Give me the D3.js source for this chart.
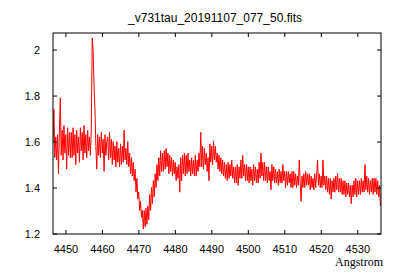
<!DOCTYPE html>
<html>
<head>
<meta charset="utf-8">
<script src="https://cdn.jsdelivr.net/npm/d3@7"></script>
<style>
  body { margin: 0; background: #fff; }
  svg { display: block; }
  .tick text { font-family: "Liberation Sans", Arial, sans-serif; font-size: 11px; fill: #000; }
</style>
</head>
<body>
<svg id="chart" width="400" height="280"></svg>
<script>
// spectrum header: start wavelength and step (Angstrom per sample)
const lambda0 = 4446.6;
const dLambda = 0.25;

// flux, one value per sample (20 samples = 5 A per row)
const flux = [
  1.60, 1.74, 1.53, 1.62, 1.52, 1.63, 1.46, 1.64, 1.79, 1.54, 1.65, 1.52, 1.67, 1.55, 1.63, 1.48, 1.66, 1.54, 1.64, 1.53,
  1.64, 1.53, 1.66, 1.54, 1.63, 1.50, 1.65, 1.55, 1.62, 1.51, 1.66, 1.56, 1.64, 1.52, 1.67, 1.55, 1.63, 1.53, 1.65, 1.56,
  1.62, 1.54, 1.66, 2.05, 2.00, 1.84, 1.74, 1.58, 1.48, 1.63, 1.54, 1.62, 1.53, 1.64, 1.55, 1.61, 1.47, 1.63, 1.54, 1.60,
  1.62, 1.52, 1.64, 1.53, 1.61, 1.50, 1.60, 1.52, 1.58, 1.49, 1.60, 1.51, 1.57, 1.49, 1.59, 1.50, 1.58, 1.51, 1.65, 1.52,
  1.57, 1.50, 1.60, 1.49, 1.55, 1.46, 1.53, 1.45, 1.51, 1.43, 1.48, 1.38, 1.44, 1.35, 1.38, 1.30, 1.34, 1.27, 1.30, 1.22,
  1.30, 1.23, 1.31, 1.24, 1.32, 1.26, 1.37, 1.30, 1.40, 1.33, 1.43, 1.36, 1.46, 1.40, 1.50, 1.43, 1.53, 1.45, 1.56, 1.47,
  1.55, 1.47, 1.56, 1.48, 1.57, 1.49, 1.55, 1.46, 1.54, 1.47, 1.53, 1.45, 1.52, 1.46, 1.51, 1.43, 1.49, 1.44, 1.50, 1.38,
  1.53, 1.43, 1.54, 1.46, 1.55, 1.45, 1.54, 1.46, 1.55, 1.47, 1.52, 1.45, 1.53, 1.46, 1.52, 1.45, 1.54, 1.45, 1.52, 1.47,
  1.55, 1.49, 1.64, 1.49, 1.58, 1.48, 1.57, 1.50, 1.55, 1.47, 1.53, 1.43, 1.59, 1.51, 1.58, 1.50, 1.60, 1.52, 1.58, 1.51,
  1.55, 1.48, 1.54, 1.47, 1.53, 1.46, 1.52, 1.45, 1.51, 1.44, 1.50, 1.43, 1.51, 1.44, 1.50, 1.45, 1.52, 1.44, 1.49, 1.42,
  1.49, 1.42, 1.50, 1.41, 1.49, 1.44, 1.52, 1.44, 1.54, 1.45, 1.50, 1.43, 1.50, 1.43, 1.49, 1.42, 1.49, 1.43, 1.48, 1.41,
  1.50, 1.43, 1.49, 1.42, 1.48, 1.42, 1.51, 1.44, 1.55, 1.45, 1.51, 1.43, 1.51, 1.43, 1.49, 1.42, 1.49, 1.43, 1.47, 1.39,
  1.50, 1.43, 1.49, 1.42, 1.48, 1.42, 1.47, 1.41, 1.48, 1.42, 1.47, 1.42, 1.50, 1.43, 1.47, 1.40, 1.47, 1.41, 1.47, 1.42,
  1.46, 1.40, 1.47, 1.40, 1.47, 1.41, 1.46, 1.40, 1.45, 1.41, 1.52, 1.42, 1.34, 1.45, 1.40, 1.46, 1.40, 1.47, 1.41, 1.46,
  1.41, 1.46, 1.39, 1.45, 1.40, 1.44, 1.39, 1.46, 1.40, 1.45, 1.52, 1.41, 1.46, 1.40, 1.45, 1.40, 1.52, 1.41, 1.45, 1.39,
  1.45, 1.38, 1.44, 1.37, 1.44, 1.35, 1.43, 1.38, 1.44, 1.38, 1.45, 1.39, 1.46, 1.38, 1.44, 1.38, 1.44, 1.37, 1.43, 1.37,
  1.43, 1.36, 1.42, 1.37, 1.42, 1.36, 1.41, 1.33, 1.41, 1.36, 1.43, 1.37, 1.44, 1.36, 1.43, 1.37, 1.43, 1.37, 1.44, 1.38,
  1.43, 1.38, 1.50, 1.39, 1.45, 1.38, 1.44, 1.37, 1.43, 1.38, 1.44, 1.37, 1.44, 1.38, 1.44, 1.37, 1.43, 1.36, 1.41, 1.32
];

const xTicks = [4450, 4460, 4470, 4480, 4490, 4500, 4510, 4520, 4530];
const yTicks = [1.2, 1.4, 1.6, 1.8, 2];

const titleText = "_v731tau_20191107_077_50.fits";
const xLabel = "Angstrom";

const data = flux.map((f, i) => ({ w: lambda0 + i * dLambda, f: f }));

const plotL = 53, plotR = 381, plotT = 33, plotB = 234;

const svg = d3.select('#chart');

const x = d3.scaleLinear().domain([4446.6, 4536.5]).range([plotL, plotR]);
const y = d3.scaleLinear().domain([1.198, 2.072]).range([plotB, plotT]);

// clip so the spectrum stays inside the frame
svg.append('clipPath').attr('id', 'plotClip')
  .append('rect')
  .attr('x', plotL).attr('y', plotT)
  .attr('width', plotR - plotL).attr('height', plotB - plotT);

// the spectrum
const line = d3.line().x(d => x(d.w)).y(d => y(d.f));
svg.append('path')
  .datum(data)
  .attr('clip-path', 'url(#plotClip)')
  .attr('fill', 'none')
  .attr('stroke', '#ff0000')
  .attr('stroke-width', 1)
  .attr('d', line);

// axes, ticks pointing inward like gnuplot
const tickLen = 4;

svg.append('g')
  .attr('transform', `translate(0,${plotB})`)
  .call(d3.axisBottom(x).tickValues(xTicks).tickSizeInner(-tickLen).tickSizeOuter(0).tickPadding(11).tickFormat(d => String(d)))
  .call(g => g.select('.domain').remove());

svg.append('g')
  .attr('transform', `translate(0,${plotT})`)
  .call(d3.axisTop(x).tickValues(xTicks).tickSizeInner(-tickLen).tickSizeOuter(0).tickFormat(''))
  .call(g => g.select('.domain').remove());

svg.append('g')
  .attr('transform', `translate(${plotL},0)`)
  .call(d3.axisLeft(y).tickValues(yTicks).tickSizeInner(-tickLen).tickSizeOuter(0).tickPadding(13).tickFormat(d => String(d)))
  .call(g => g.select('.domain').remove());

svg.append('g')
  .attr('transform', `translate(${plotR},0)`)
  .call(d3.axisRight(y).tickValues(yTicks).tickSizeInner(-tickLen).tickSizeOuter(0).tickFormat(''))
  .call(g => g.select('.domain').remove());

svg.selectAll('.tick line').attr('stroke', '#000');

// frame
svg.append('rect')
  .attr('x', plotL).attr('y', plotT)
  .attr('width', plotR - plotL).attr('height', plotB - plotT)
  .attr('fill', 'none')
  .attr('stroke', '#000')
  .attr('stroke-width', 1);

// title
svg.append('text')
  .attr('x', 215).attr('y', 22)
  .attr('text-anchor', 'middle')
  .attr('font-family', '"Liberation Sans", Arial, sans-serif')
  .attr('font-size', '12px')
  .text(titleText);

// x axis label
svg.append('text')
  .attr('x', 383).attr('y', 266)
  .attr('text-anchor', 'end')
  .attr('font-family', '"Liberation Serif", "Times New Roman", serif')
  .attr('font-size', '12px')
  .text(xLabel);
</script>
</body>
</html>
